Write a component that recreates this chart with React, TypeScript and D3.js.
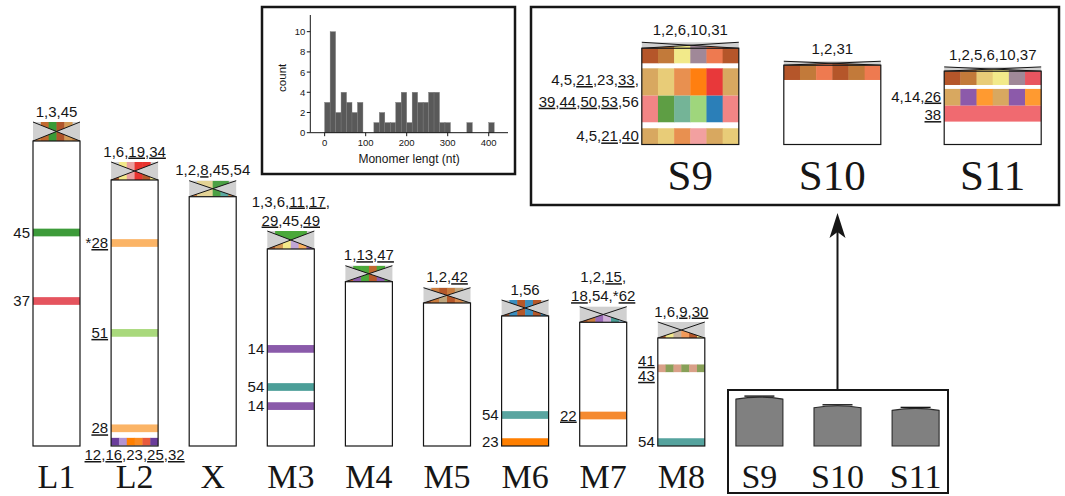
import React from "react";
import * as d3 from "d3";

// ---------------- data ----------------
const chromNames = ["L1", "L2", "X", "M3", "M4", "M5", "M6", "M7", "M8"];
const chromLengths = [305, 266, 249.3, 197, 164.3, 143, 130, 123.7, 108];
const centroLengths = [19, 18, 16, 18, 16, 15.3, 16, 15.6, 16];
const centroLabels = [
  ["1,3,45"],
  ["1,6,_19,_34"],
  ["1,2,_8,45,54"],
  ["1,3,6,_11,_17,", "_29,45,_49"],
  ["1,_13,_47"],
  ["1,2,_42"],
  ["1,56"],
  ["1,2,_15,", "_18,54,*_62"],
  ["1,6,_9,_30"],
];
const centroTopColors: (string | null)[][] = [
  [null, "#c0692f", "#3a9a36", "#b0552a", "#d39a55", null],
  [null, "#f3e98a", "#e8a0a0", "#e8332f", "#e8332f", null],
  [null, "#e3d395", "#e3d395", "#4ba044", "#4ba044", null],
  [null, "#4aa83a", "#4aa83a", "#4aa83a", "#4aa83a", null],
  [null, "#4aa83a", "#4aa83a", "#c0692f", "#4aa83a", null],
  [null, "#c97c3e", "#b5582a", "#c97c3e", "#bfa67e", null],
  [null, "#3a8fc0", "#b5582a", "#3a8fc0", "#b5582a", null],
  [null, null, null, null, null, null],
  [null, null, null, null, null, null],
];
const centroBottomColors = [
  ["#d08a48", "#c0692f", "#3a9a36", "#b0552a", "#d39a55", "#c8803f"],
  ["#b5582a", "#f3e98a", "#e8a0a0", "#e8332f", "#b5582a", "#f3e98a"],
  ["#cf7a3a", "#e3d395", "#e3d395", "#4ba044", "#5aa9a2", "#cf7a3a"],
  ["#b5582a", "#d69a55", "#f3e98a", "#c0a6d6", "#f9b060", "#8a5aa8"],
  ["#b5582a", "#8a5aa8", "#4aa83a", "#b5582a", "#8a5aa8", "#4aa83a"],
  ["#b5582a", "#c97c3e", "#bfa67e", "#b5582a", "#d88a4c", "#bfa67e"],
  ["#b5582a", "#3a8fc0", "#b5582a", "#3a8fc0", "#b5582a", "#3a8fc0"],
  ["#b5582a", "#c97c3e", "#9a6ab8", "#d0b0d8", "#4a9e96", "#a8cde6"],
  ["#b5582a", "#f3e98a", "#c4b2a0", "#f29a5a", "#b5582a", "#f3e98a"],
];
const chromBottomLabels = ["", "_12,_16,23,_25,_32", "", "", "", "", "", "", ""];

const bandChrom = ["L1", "L1", "L2", "L2", "L2", "L2", "M3", "M3", "M3", "M6", "M6", "M7", "M8", "M8"];
const bandPos = [213.5, 145, 203, 113.1, 17.7, 4.3, 97.1, 59, 39.9, 31, 3.9, 30.5, 77.7, 3.9];
const bandColors = [
  ["#3d9b3a"],
  ["#e5545e"],
  ["#fbb466"],
  ["#a9d97c"],
  ["#fbb466"],
  ["#6a3d9a", "#b293d2", "#ff7f00", "#f98b22", "#e85a3c", "#6a3d9a"],
  ["#8a5aaa"],
  ["#4b9e98"],
  ["#8a5aaa"],
  ["#5aa5a0"],
  ["#ff7f00"],
  ["#f58a30"],
  ["#d9a088", "#88a058", "#d9a088", "#88a058", "#d9a088", "#88a058"],
  ["#55a39e"],
];
const bandLabels = [
  ["45"], ["37"], ["*_28"], ["_51"], ["_28"], [], ["14"], ["54"], ["14"], ["54"], ["23"], ["_22"], ["_41", "_43"], ["54"],
];

// small chromosomes (S) shown at the bottom and enlarged in the inset
const sNames = ["S9", "S10", "S11"];
const sLengths = [46.9, 38.2, 35.6];
const sCentroLengths = [2.75, 1.83, 1.97];
const sCentroLabels = ["1,2,6,10,31", "1,2,31", "1,2,5,6,10,37"];
const sCentroColors = [
  ["#b5562a", "#c27a3a", "#f2ea8a", "#a08898", "#ee7a50", "#b5562a"],
  ["#b5562a", "#c27a3a", "#ee7a50", "#b5562a", "#c27a3a", "#ee7a50"],
  ["#b5562a", "#c27a3a", "#e8cc78", "#f2ea8a", "#a08898", "#e85560"],
];
const sRowChrom = ["S9", "S9", "S9", "S9", "S10", "S11", "S11", "S11"];
const sRowFrom = [37.25, 22.4, 10.2, 0, 29.6, 27.3, 17.8, 10.5];
const sRowTo = [44.15, 34.95, 22.4, 7.45, 36.37, 33.63, 25.5, 17.8];
const sRowColors = [
  ["#b5562a", "#c27a3a", "#f2ea8a", "#a08898", "#ee7a50", "#b5562a"],
  ["#d8a860", "#e8cc78", "#e89050", "#ff7f10", "#e8383a", "#d8a860"],
  ["#f28585", "#5e9e44", "#74b497", "#9fd67c", "#2b7fb8", "#f28585"],
  ["#d8a860", "#e8cc78", "#e89050", "#f2a0a0", "#d8a860", "#e8cc78"],
  ["#b5562a", "#c27a3a", "#ee7a50", "#b5562a", "#c27a3a", "#ee7a50"],
  ["#b5562a", "#c27a3a", "#e8cc78", "#f2ea8a", "#a08898", "#e85560"],
  ["#d8a860", "#8c5aaa", "#ff9a30", "#d8a860", "#8c5aaa", "#ff9a30"],
  ["#f06a70"],
];
const sLabelChrom = ["S9", "S9", "S11", "S11"];
const sLabelPos = [24.6, 3.7, 22, 13.5];
const sLabelLines = [
  ["4,5,_21,23,_33,", "_39,_44,_50,_53,56"],
  ["4,5,_21,_40"],
  ["4,14,_26"],
  ["_38"],
];

// histogram of monomer lengths (bin width 400/30 nt, starting at 0)
const binCounts = [3, 10, 2, 4, 3, 2, 3, 0, 0, 1, 2, 1, 1, 3, 4, 1, 4, 3, 3, 4, 4, 1, 1, 0, 0, 0, 1, 0, 0, 0, 1];
const binWidth = 400 / 30;
const histXTicks = [0, 100, 200, 300, 400];
const histYTicks = [0, 2, 4, 6, 8, 10];

// ---------------- helpers ----------------
const SANS = "'Liberation Sans', Arial, Helvetica, sans-serif";
const SERIF = "'Liberation Serif', 'Times New Roman', serif";
const GRAY = "#d0d0d0";
const INK = "#161616";

function parseTokens(s: string) {
  const out: { t: string; u: boolean }[] = [];
  const parts = s.split(",");
  parts.forEach((p0, i) => {
    let p = p0;
    if (p.startsWith("*")) {
      out.push({ t: "*", u: false });
      p = p.slice(1);
    }
    if (p.startsWith("_")) out.push({ t: p.slice(1), u: true });
    else if (p) out.push({ t: p, u: false });
    if (i < parts.length - 1) out.push({ t: ",", u: false });
  });
  return out;
}

function RichLabel({ x, y, text, anchor, size = 15 }: { x: number; y: number; text: string; anchor: string; size?: number }) {
  const toks = parseTokens(text);
  return (
    <text x={x} y={y} textAnchor={anchor} fontSize={size} fontFamily={SANS} fill={INK}>
      {toks.map((t, i) => (
        <tspan key={i} style={t.u ? { textDecoration: "underline" } : undefined}>
          {t.t}
        </tspan>
      ))}
    </text>
  );
}

function Stripes({ x, w, y0, y1, colors, clip }: { x: number; w: number; y0: number; y1: number; colors: (string | null)[]; clip?: string }) {
  const sw = w / colors.length;
  return (
    <g clipPath={clip ? `url(#${clip})` : undefined}>
      {colors.map((c, i) =>
        c ? <rect key={i} x={x + i * sw} y={y0} width={sw + (i < colors.length - 1 ? 0.4 : 0)} height={y1 - y0} fill={c} /> : null
      )}
    </g>
  );
}

function Centro({ id, x, w, y0, y1, top, bottom }: { id: string; x: number; w: number; y0: number; y1: number; top: (string | null)[] | null; bottom: string[] }) {
  const cx = x + w / 2;
  const cy = (y0 + y1) / 2;
  return (
    <g>
      <defs>
        <clipPath id={id + "t"}>
          <polygon points={`${x},${y0} ${x + w},${y0} ${cx},${cy}`} />
        </clipPath>
        <clipPath id={id + "b"}>
          <polygon points={`${x},${y1} ${x + w},${y1} ${cx},${cy}`} />
        </clipPath>
      </defs>
      <rect x={x} y={y0} width={w} height={y1 - y0} fill={GRAY} />
      {top && <Stripes x={x} w={w} y0={y0} y1={y1} colors={top} clip={id + "t"} />}
      <Stripes x={x} w={w} y0={y0} y1={y1} colors={bottom} clip={id + "b"} />
      <line x1={x} y1={y0} x2={x + w} y2={y1} stroke={INK} strokeWidth={1} />
      <line x1={x + w} y1={y0} x2={x} y2={y1} stroke={INK} strokeWidth={1} />
    </g>
  );
}

// ---------------- component ----------------
export default function App() {
  const W = 1065;
  const H = 496;
  const CW = 47;
  const BAND_H = 7.7;
  const NAME_SIZE = 34;

  const allNames = [...chromNames, ...sNames];
  const xPos = d3.scalePoint<string>().domain(allNames).range([56.5, 915.6]);
  const yMain = d3.scaleLinear().domain([0, 100]).range([446, 346]);

  // inset
  const insetCenters = [690.3, 832.3, 992.7];
  const IW = 97;
  const yIn = d3.scaleLinear().domain([0, 10]).range([144.5, 122.7]);

  // histogram
  const xH = d3.scaleLinear().domain([-35, 447]).range([310.3, 508]);
  const yH = d3.scaleLinear().domain([0, 11.65]).range([132.7, 15]);

  const chromEls = chromNames.map((name, ci) => {
    const cx = xPos(name)!;
    const x = cx - CW / 2;
    const yBodyTop = yMain(chromLengths[ci]);
    const yCTop = yMain(chromLengths[ci] + centroLengths[ci]);
    const labels = centroLabels[ci];
    const bands = bandChrom.map((c, i) => (c === name ? i : -1)).filter((i) => i >= 0);
    return (
      <g key={name}>
        <Centro id={"c" + ci} x={x} w={CW} y0={yCTop} y1={yBodyTop} top={centroTopColors[ci]} bottom={centroBottomColors[ci]} />
        <rect x={x} y={yBodyTop} width={CW} height={yMain(0) - yBodyTop} fill="#fff" />
        {bands.map((bi) => {
          const yc = yMain(bandPos[bi]);
          return <Stripes key={bi} x={x} w={CW} y0={yc - BAND_H / 2} y1={yc + BAND_H / 2} colors={bandColors[bi]} />;
        })}
        <rect x={x} y={yBodyTop} width={CW} height={yMain(0) - yBodyTop} fill="none" stroke={INK} strokeWidth={1.2} />
        {bands.map((bi) => {
          const yc = yMain(bandPos[bi]);
          const lines = bandLabels[bi];
          const n = lines.length;
          return lines.map((t, li) => (
            <RichLabel key={bi + "-" + li} x={x - 3} y={yc + 5 + (li - (n - 1) / 2) * 15} text={t} anchor="end" />
          ));
        })}
        {labels.map((t, li) => (
          <RichLabel key={li} x={cx} y={yCTop - 5.5 - (labels.length - 1 - li) * 19} text={t} anchor="middle" />
        ))}
        {chromBottomLabels[ci] && <RichLabel x={cx} y={460} text={chromBottomLabels[ci]} anchor="middle" />}
        <text x={cx} y={488} textAnchor="middle" fontFamily={SERIF} fontSize={NAME_SIZE} fill={INK}>
          {name}
        </text>
      </g>
    );
  });

  // small S chromosomes at the bottom
  const smallEls = sNames.map((name, si) => {
    const cx = xPos(name)!;
    const x = cx - CW / 2;
    const yt = yMain(sLengths[si]);
    const yb = yMain(0);
    const d = `M${x},${yb} L${x},${yt} Q${cx},${yt - 4} ${x + CW},${yt} L${x + CW},${yb} Z`;
    return (
      <g key={name}>
        <path d={d} fill="#808080" stroke="#2a2a2a" strokeWidth={1.1} />
        <line x1={cx - 15} x2={cx + 15} y1={yt - 3} y2={yt - 3} stroke={INK} strokeWidth={1.4} />
        <text x={cx} y={488} textAnchor="middle" fontFamily={SERIF} fontSize={NAME_SIZE} fill={INK}>
          {name}
        </text>
      </g>
    );
  });

  // inset enlarged S chromosomes
  const insetEls = sNames.map((name, si) => {
    const cx = insetCenters[si];
    const x = cx - IW / 2;
    const yTop = yIn(sLengths[si]);
    const yBodyTop = yIn(sLengths[si] - sCentroLengths[si]);
    const yb = yIn(0);
    const rows = sRowChrom.map((c, i) => (c === name ? i : -1)).filter((i) => i >= 0);
    const labs = sLabelChrom.map((c, i) => (c === name ? i : -1)).filter((i) => i >= 0);
    return (
      <g key={name}>
        <Centro id={"s" + si} x={x} w={IW} y0={yTop} y1={yBodyTop} top={null} bottom={sCentroColors[si]} />
        <rect x={x} y={yBodyTop} width={IW} height={yb - yBodyTop} fill="#fff" />
        {rows.map((ri) => (
          <Stripes key={ri} x={x} w={IW} y0={yIn(sRowTo[ri])} y1={yIn(sRowFrom[ri])} colors={sRowColors[ri]} />
        ))}
        <rect x={x} y={yBodyTop} width={IW} height={yb - yBodyTop} fill="none" stroke={INK} strokeWidth={1.2} />
        {labs.map((li) => {
          const yc = yIn(sLabelPos[li]);
          const lines = sLabelLines[li];
          const n = lines.length;
          return lines.map((t, k) => (
            <RichLabel key={li + "-" + k} x={x - 3} y={yc + 5 + (k - (n - 1) / 2) * 21.7} text={t} anchor="end" />
          ));
        })}
        <RichLabel x={cx} y={yTop - 7} text={sCentroLabels[si]} anchor="middle" />
        <text x={cx} y={190} textAnchor="middle" fontFamily={SERIF} fontSize={43} fill={INK}>
          {name}
        </text>
      </g>
    );
  });

  const histEls = (
    <g>
      <rect x={262} y={7} width={253} height={167} fill="#fff" stroke={INK} strokeWidth={2.5} />
      {binCounts.map((c, i) =>
        c > 0 ? (
          <rect
            key={i}
            x={xH(i * binWidth)}
            y={yH(c)}
            width={xH((i + 1) * binWidth) - xH(i * binWidth)}
            height={yH(0) - yH(c)}
            fill="#595959"
            stroke="#7a7a7a"
            strokeWidth={0.4}
          />
        ) : null
      )}
      <line x1={xH.range()[0]} x2={xH.range()[0]} y1={yH.range()[0]} y2={yH.range()[1]} stroke={INK} strokeWidth={1} />
      <line x1={xH.range()[0]} x2={xH.range()[1]} y1={yH(0)} y2={yH(0)} stroke={INK} strokeWidth={1} />
      {histYTicks.map((t) => (
        <g key={"y" + t}>
          <line x1={xH.range()[0] - 3.5} x2={xH.range()[0]} y1={yH(t)} y2={yH(t)} stroke={INK} strokeWidth={1} />
          <text x={xH.range()[0] - 5} y={yH(t) + 3.5} textAnchor="end" fontFamily={SANS} fontSize={9.5} fill={INK}>
            {t}
          </text>
        </g>
      ))}
      {histXTicks.map((t) => (
        <g key={"x" + t}>
          <line x1={xH(t)} x2={xH(t)} y1={yH(0)} y2={yH(0) + 3.5} stroke={INK} strokeWidth={1} />
          <text x={xH(t)} y={yH(0) + 13.5} textAnchor="middle" fontFamily={SANS} fontSize={9.5} fill={INK}>
            {t}
          </text>
        </g>
      ))}
      <text transform={`translate(286,${(yH(0) + yH.range()[1]) / 2 + 4}) rotate(-90)`} textAnchor="middle" fontFamily={SANS} fontSize={11.5} fill={INK}>
        count
      </text>
      <text x={(xH.range()[0] + xH.range()[1]) / 2} y={163} textAnchor="middle" fontFamily={SANS} fontSize={12} fill={INK}>
        Monomer lengt (nt)
      </text>
    </g>
  );

  const arrowX = xPos("S10")!;

  return (
    <svg width={W} height={H} style={{ position: "absolute", left: 0, top: 0, background: "#fff" }}>
      <rect width={W} height={H} fill="#fff" />
      {histEls}
      <rect x={531} y={7} width={528} height={198} fill="#fff" stroke={INK} strokeWidth={2.5} />
      {insetEls}
      {chromEls}
      <rect x={728} y={390} width={220} height={103} fill="#fff" stroke={INK} strokeWidth={2} />
      {smallEls}
      <line x1={arrowX} x2={arrowX} y1={390} y2={232} stroke={INK} strokeWidth={2} />
      <path d={`M${arrowX},213 L${arrowX + 8},238 L${arrowX},232 L${arrowX - 8},238 Z`} fill={INK} />
    </svg>
  );
}
